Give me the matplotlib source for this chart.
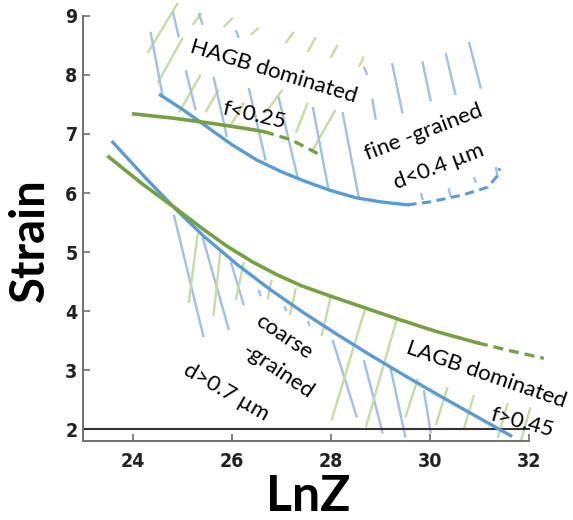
import numpy as np
import matplotlib
matplotlib.use("Agg")
import matplotlib.pyplot as plt

# boundary curves (LnZ, strain)
blue_upper_x = [24.56, 25.0, 25.5, 26.0, 26.5, 27.0, 27.5, 28.0, 28.5, 29.0, 29.54]
blue_upper_y = [7.66, 7.42, 7.12, 6.82, 6.56, 6.36, 6.19, 6.04, 5.92, 5.85, 5.80]
blue_upper_dash_x = [29.54, 30.0, 30.67, 31.16, 31.36, 31.40]
blue_upper_dash_y = [5.80, 5.85, 5.97, 6.10, 6.30, 6.42]

green_upper_x = [24.02, 24.8, 25.6, 26.3, 26.65]
green_upper_y = [7.34, 7.27, 7.18, 7.09, 7.04]
green_upper_dash_x = [26.65, 27.2, 27.75]
green_upper_dash_y = [7.04, 6.90, 6.66]

blue_lower_x = [23.6, 24.3, 24.9, 25.43, 26.12, 26.78, 27.45, 28.13, 28.8, 29.5, 30.2, 30.75, 31.28, 31.62]
blue_lower_y = [6.86, 6.22, 5.70, 5.27, 4.78, 4.36, 3.97, 3.60, 3.25, 2.90, 2.56, 2.30, 2.05, 1.89]

green_lower_x = [23.52, 24.2, 24.9, 25.4, 25.9, 26.4, 26.9, 27.4, 28.0, 28.7, 29.4, 30.1, 30.96]
green_lower_y = [6.61, 6.15, 5.72, 5.40, 5.10, 4.84, 4.62, 4.43, 4.25, 4.05, 3.85, 3.66, 3.46]
green_lower_dash_x = [30.96, 31.6, 32.29]
green_lower_dash_y = [3.46, 3.33, 3.20]

# hatch strokes: (x0, y0, x1, y1)
upper_green_hatch = [
    (24.30, 8.37, 24.91, 9.22), (24.50, 7.86, 25.01, 8.63), (25.21, 8.85, 25.39, 9.05),
    (24.93, 7.36, 25.37, 8.00), (25.47, 7.37, 25.73, 7.75), (25.83, 8.81, 26.02, 8.97),
    (25.98, 7.15, 26.24, 7.53), (26.38, 8.68, 26.54, 8.80), (26.68, 7.36, 27.02, 7.75),
    (27.08, 8.54, 27.25, 8.73), (27.29, 7.02, 27.53, 7.53), (27.53, 8.39, 27.69, 8.64),
    (27.63, 6.73, 28.09, 7.41), (27.99, 8.29, 28.13, 8.51), (28.56, 8.14, 28.66, 8.31),
]
upper_blue_hatch = [
    (24.36, 8.73, 24.60, 7.66), (24.81, 9.07, 24.93, 8.64), (25.07, 8.08, 25.27, 7.40),
    (25.33, 9.05, 25.41, 8.85), (25.63, 7.97, 25.90, 6.95), (26.08, 8.76, 26.14, 8.63),
    (26.34, 7.78, 26.68, 6.55), (26.94, 7.63, 27.33, 6.25), (27.63, 7.46, 27.95, 6.05),
    (28.23, 7.37, 28.56, 5.92), (28.66, 8.14, 28.73, 8.00), (28.83, 7.60, 28.90, 7.24),
    (29.23, 8.20, 29.44, 7.35), (29.84, 8.23, 30.01, 7.55), (30.31, 8.37, 30.51, 7.66),
    (30.78, 8.56, 31.02, 7.77), (29.81, 6.00, 29.85, 5.88), (30.37, 6.08, 30.41, 5.93),
    (30.88, 6.27, 30.92, 6.17), (31.32, 6.44, 31.36, 6.27),
]
lower_blue_hatch = [
    (24.83, 5.63, 25.43, 3.56), (25.41, 5.25, 25.94, 3.68), (25.98, 4.83, 26.24, 4.10),
    (26.54, 4.36, 26.58, 4.25), (27.06, 4.08, 27.10, 4.00), (27.53, 3.83, 27.57, 3.75),
    (28.03, 3.51, 28.52, 2.20), (28.66, 3.17, 29.04, 1.93), (29.20, 3.03, 29.50, 1.86),
    (29.87, 2.66, 30.01, 1.93),
]
lower_green_hatch = [
    (25.31, 5.31, 25.13, 4.14), (25.77, 5.03, 25.63, 3.92), (26.24, 4.83, 26.08, 4.19),
    (26.80, 4.53, 26.72, 4.20), (27.29, 4.39, 27.17, 3.93), (27.99, 4.24, 27.81, 3.58),
    (28.68, 4.02, 28.01, 2.15), (29.32, 3.85, 28.70, 2.03), (29.75, 2.86, 29.50, 2.20),
    (30.35, 2.71, 30.11, 2.07), (30.88, 2.58, 30.67, 1.98), (31.56, 2.44, 31.36, 1.85),
    (32.02, 2.37, 31.82, 1.78),
]

x_ticks = [24, 26, 28, 30, 32]
y_ticks = [2, 3, 4, 5, 6, 7, 8, 9]

BLUE = "#5b9bd5"
GREEN = "#75a141"
LIGHT_BLUE = "#9cc2e8"
LIGHT_GREEN = "#c6dca0"
TXT = ["Lato", "DejaVu Sans"]

fig = plt.figure(figsize=(5.73, 5.20), dpi=100)
ax = fig.add_axes([0.145, 0.152, 0.831, 0.848])
ax.set_xlim(23, 32.6)
ax.set_ylim(1.8, 9.27)

# hatching
for segs, col in [(upper_green_hatch, LIGHT_GREEN), (upper_blue_hatch, LIGHT_BLUE),
                  (lower_blue_hatch, LIGHT_BLUE), (lower_green_hatch, LIGHT_GREEN)]:
    for x0, y0, x1, y1 in segs:
        ax.plot([x0, x1], [y0, y1], color=col, lw=1.7, solid_capstyle="butt", zorder=1, clip_on=False)

# reference line at strain 2
ax.plot([23, 32], [2, 2], color="#333333", lw=1.5, zorder=2)

# boundary curves
curve_kw = dict(solid_joinstyle="round", dash_joinstyle="round", zorder=3, clip_on=False)
ax.plot(blue_upper_x, blue_upper_y, color=BLUE, lw=2.4, **curve_kw)
ax.plot(blue_upper_dash_x, blue_upper_dash_y, color=BLUE, lw=2.2, ls=(0, (3, 1.8)), **curve_kw)
ax.plot(green_upper_x, green_upper_y, color=GREEN, lw=2.6, **curve_kw)
ax.plot(green_upper_dash_x, green_upper_dash_y, color=GREEN, lw=2.4, ls=(0, (3, 1.8)), **curve_kw)
ax.plot(blue_lower_x, blue_lower_y, color=BLUE, lw=2.4, **curve_kw)
ax.plot(green_lower_x, green_lower_y, color=GREEN, lw=2.6, **curve_kw)
ax.plot(green_lower_dash_x, green_lower_dash_y, color=GREEN, lw=2.4, ls=(0, (3, 1.8)), **curve_kw)

# region labels
labels = [
    ("HAGB dominated", 26.85, 8.05, -17),
    ("f<0.25", 26.46, 7.32, -13),
    ("fine -grained", 29.87, 7.02, 21),
    ("d<0.4 \u00b5m", 30.17, 6.44, 21),
    ("coarse", 27.04, 3.56, -34),
    ("-grained", 26.92, 2.97, -34),
    ("d>0.7 \u00b5m", 25.88, 2.63, -30),
    ("LAGB dominated", 31.12, 2.92, -19),
    ("f>0.45", 31.86, 2.12, -15),
]
for s, x, y, rot in labels:
    ax.text(x, y, s, rotation=rot, ha="center", va="center", fontsize=16,
            family=TXT, color="black", zorder=5, rotation_mode="anchor")

# axes styling
for side in ["top", "right"]:
    ax.spines[side].set_visible(False)
for side in ["left", "bottom"]:
    ax.spines[side].set_color("#707070")
    ax.spines[side].set_linewidth(1.4)
ax.spines["left"].set_bounds(1.8, 9)
ax.spines["bottom"].set_bounds(23, 32)
ax.set_xticks(x_ticks)
ax.set_yticks(y_ticks)
ax.tick_params(direction="in", length=5, width=1.2, color="#707070")
ax.tick_params(axis="x", pad=8)
ax.tick_params(axis="y", pad=4)
for lab in ax.get_xticklabels() + ax.get_yticklabels():
    lab.set_family(["DejaVu Sans"])
    lab.set_fontstretch("condensed")
    lab.set_fontweight("bold")
    lab.set_fontsize(14)
    lab.set_color("#222222")

ax.text(-0.111, 0.456, "Strain", transform=ax.transAxes, rotation=90, ha="center", va="center",
        fontsize=34, fontweight="bold", family=TXT)
ax.text(0.473, -0.127, "LnZ", transform=ax.transAxes, ha="center", va="center",
        fontsize=36, fontweight="bold", family=TXT)

fig.savefig("out.png", dpi=100)
